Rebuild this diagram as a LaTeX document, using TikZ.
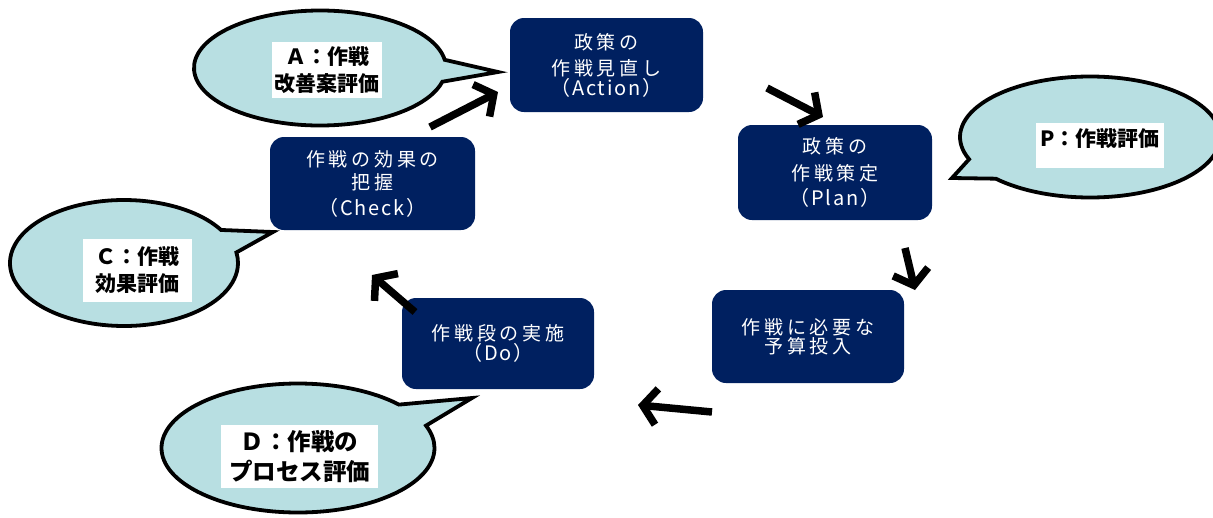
\documentclass[tikz,border=0pt]{standalone}
\usepackage{fontspec}
\usetikzlibrary{shapes.callouts,arrows.meta}
\newfontfamily\jpbox[LetterSpace=20]{Noto Sans CJK JP}
\newfontfamily\jplab{Noto Sans CJK JP}
\newfontfamily\jplat[LetterSpace=9]{Noto Sans CJK JP}
\newcommand\lat[1]{{\jplat\fontsize{20}{25}\selectfont（\hspace{2pt}#1\hspace{2pt}）}}
\definecolor{navy}{RGB}{0,32,96}
\definecolor{aqua}{RGB}{184,223,226}
\begin{document}
\begin{tikzpicture}[x=1pt,y=-1pt,
  stepbox/.style={fill=navy, rounded corners=14pt, text=white, align=center, inner sep=0pt, font=\jpbox\fontsize{19}{25}\selectfont},
  bubble/.style={ellipse callout, draw=black, line width=3.8pt, fill=aqua, inner sep=0pt, callout pointer arc=22},
  tag/.style={fill=white, inner sep=0pt, align=center, font=\jplab\bfseries\fontsize{21}{27}\selectfont},
  flow/.style={line width=7.5pt, -{Straight Barb[length=14pt,width=36pt]}}]
\useasboundingbox (0,0) rectangle (1213,517);
% callouts
\node[bubble, minimum width=252pt, minimum height=115pt, callout absolute pointer={(498,72)}] (cA) at (320,68) {};
\node[bubble, minimum width=228pt, minimum height=126pt, callout absolute pointer={(273,232)}] (cC) at (124,263) {};
\node[bubble, minimum width=273pt, minimum height=129pt, callout absolute pointer={(472,398)}] (cD) at (298,448) {};
\node[bubble, minimum width=260pt, minimum height=121pt, callout absolute pointer={(952,178)}] (cP) at (1090,137) {};
% labels
\node[tag, minimum width=110pt, minimum height=56pt] (lA) at (327,70) {Ａ：作戦\\改善案評価};
\node[tag, minimum width=109pt, minimum height=63pt] (lC) at (137.5,270.5) {Ｃ：作戦\\効果評価};
\node[tag, minimum width=157pt, minimum height=63pt, font=\jplab\bfseries\fontsize{23.5}{30}\selectfont] (lD) at (299.5,456.5) {Ｄ：作戦の\\プロセス評価};
\node[tag, minimum width=128pt, text height=23pt, text depth=22pt] (lP) at (1100,145.5) {P：作戦評価};
% boxes
\node[stepbox, minimum width=193pt, minimum height=94pt] (act) at (606.5,65) {政策の\\[1pt]作戦見直し\\[-5pt]\lat{Action}};
\node[stepbox, minimum width=194pt, minimum height=95pt] (plan) at (835,172.5) {政策の\\[2pt]作戦策定\\[0pt]\lat{Plan}};
\node[stepbox, minimum width=192pt, minimum height=93pt, font=\jpbox\fontsize{19}{19}\selectfont] (bud) at (808,336.5) {作戦に必要な\\予算投入};
\node[stepbox, minimum width=192pt, minimum height=91pt, font=\jpbox\fontsize{19}{20}\selectfont] (do) at (498,343.5) {作戦段の実施\\\lat{Do}};
\node[stepbox, minimum width=205pt, minimum height=93pt] (chk) at (372.5,183.5) {作戦の効果の\\[-2pt]把握\\[1pt]\lat{Check}};
% arrow ends
\coordinate (a1s) at (430,127); \coordinate (a1e) at (498,92);
\coordinate (a2s) at (767,88);  \coordinate (a2e) at (823,117);
\coordinate (a3s) at (905,248); \coordinate (a3e) at (915,290);
\coordinate (a4s) at (712,412); \coordinate (a4e) at (638,405);
\coordinate (a5s) at (415,312); \coordinate (a5e) at (372,275);
\draw[flow] (a1s) -- (a1e);
\draw[flow] (a2s) -- (a2e);
\draw[flow] (a3s) -- (a3e);
\draw[flow] (a4s) -- (a4e);
\draw[flow] (a5s) -- (a5e);
\end{tikzpicture}
\end{document}
